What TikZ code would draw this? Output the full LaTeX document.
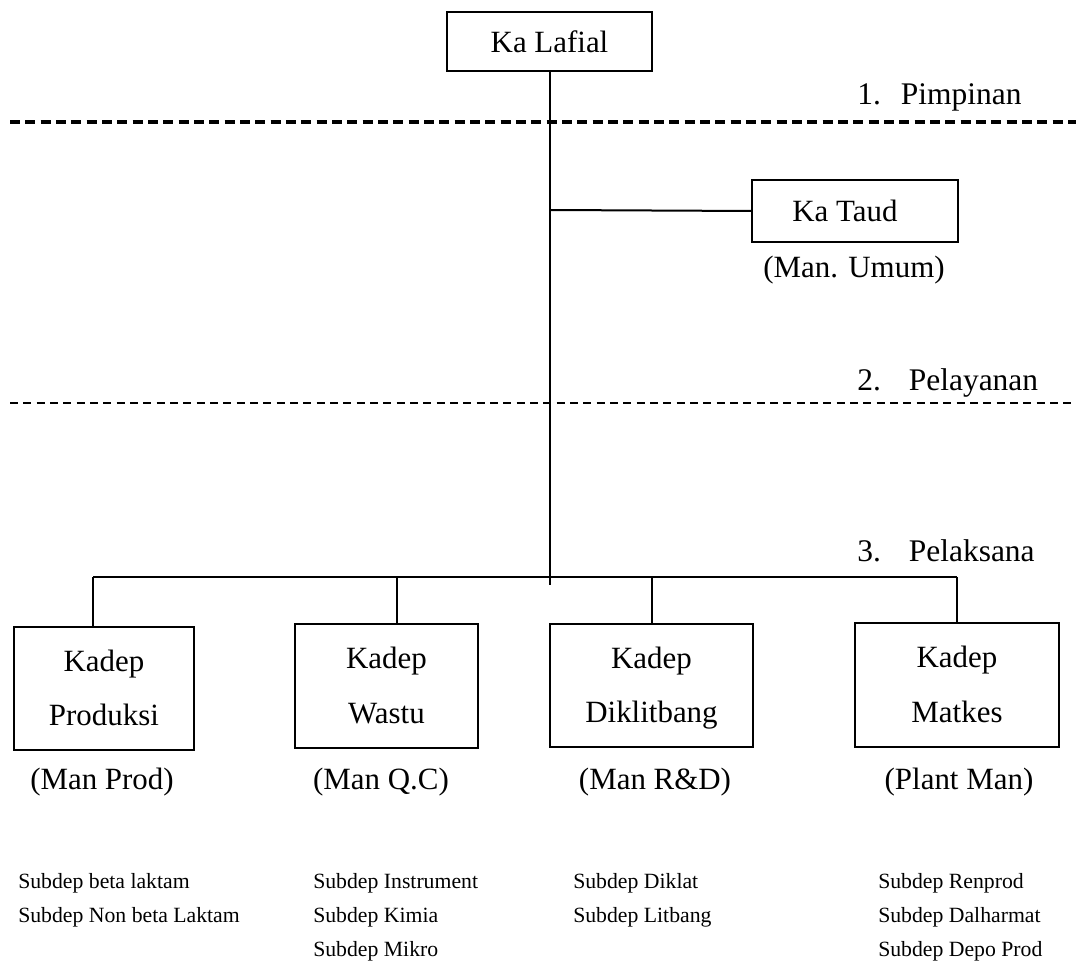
\documentclass[tikz,border=0pt]{standalone}
\usepackage{fontspec}
\setmainfont{Liberation Serif}
\newcommand{\toprl}{\rule{0pt}{20pt}}
\newcommand{\botrl}{\vphantom{g}}
\begin{document}
\begin{tikzpicture}[x=0.75pt,y=-0.75pt,
  box/.style={draw, line width=1.4pt, inner sep=0pt, align=center,
    font=\fontsize{23.2}{41}\selectfont},
  lbl/.style={inner sep=0pt, font=\fontsize{23.2}{28}\selectfont},
  lvl/.style={inner sep=0pt, anchor=west, font=\fontsize{23.6}{28}\selectfont},
  sub/.style={inner sep=0pt, anchor=west, font=\fontsize{16.3}{20}\selectfont},
  conn/.style={line width=1.5pt},
  thinconn/.style={line width=1.1pt},
  dashA/.style={line width=2.3pt, dash pattern=on 7.5pt off 4pt},
  dashB/.style={line width=1.1pt, dash pattern=on 6pt off 4pt}]
\useasboundingbox (0,0) rectangle (1076,969);
% top
\node[box, minimum width={205*0.75pt}, minimum height={59*0.75pt}] (lafial) at (549.5,41.5) {Ka Lafial};
\node[box, minimum width={206*0.75pt}, minimum height={62*0.75pt}] (taud) at (855,211) {Ka Taud\hspace*{15pt}};
\node[lbl] (umum) at (854,270) {(Man. Umum)};
% level separators
\coordinate (d1a) at (10,122); \coordinate (d1b) at (1076,122);
\coordinate (d2a) at (10,403); \coordinate (d2b) at (1076,403);
\draw[dashA] (d1a) -- (d1b);
\draw[dashB] (d2a) -- (d2b);
\node[lvl] (l1) at (857,97) {1.\hspace{15pt}Pimpinan};
\node[lvl] (l2) at (857,383) {2.\hspace{21pt}Pelayanan};
\node[lvl] (l3) at (857,551) {3.\hspace{21pt}Pelaksana};
% departments
\node[box, minimum width={180*0.75pt}, minimum height={123*0.75pt}] (b1) at (104,688.5) {\toprl Kadep\\Produksi\botrl};
\node[box, minimum width={183*0.75pt}, minimum height={124*0.75pt}] (b2) at (386.5,686) {\toprl Kadep\\Wastu\botrl};
\node[box, minimum width={203*0.75pt}, minimum height={123*0.75pt}] (b3) at (651.5,685.5) {\toprl Kadep\\Diklitbang\botrl};
\node[box, minimum width={204*0.75pt}, minimum height={124*0.75pt}] (b4) at (957,685) {\toprl Kadep\\Matkes\botrl};
\node[lbl] (m1) at (102,782) {(Man Prod)};
\node[lbl] (m2) at (381,782) {(Man Q.C)};
\node[lbl] (m3) at (655,782) {(Man R\&D)};
\node[lbl] (m4) at (959,782) {(Plant Man)};
% connectors
\coordinate (trunk) at (550,585);
\coordinate (tj) at (550,210);
\coordinate (j1) at (93,577);
\coordinate (j2) at (397,577);
\coordinate (j3) at (652,577);
\coordinate (j4) at (957,577);
\draw[thinconn] (lafial.south -| trunk) -- (trunk);
\draw[conn] (tj) -- (taud.west);
\draw[conn] (j1) -- (j4);
\draw[thinconn] (j1) -- (j1 |- b1.north);
\draw[thinconn] (j2) -- (j2 |- b2.north);
\draw[conn] (j3) -- (j3 |- b3.north);
\draw[conn] (j4) -- (j4 |- b4.north);
% sub departments
\node[sub] (s11) at (18,883) {Subdep beta laktam};
\node[sub] (s12) at (18,917) {Subdep Non beta Laktam};
\node[sub] (s21) at (313,883) {Subdep Instrument};
\node[sub] (s22) at (313,917) {Subdep Kimia};
\node[sub] (s23) at (313,951) {Subdep Mikro};
\node[sub] (s31) at (573,883) {Subdep Diklat};
\node[sub] (s32) at (573,917) {Subdep Litbang};
\node[sub] (s41) at (878,883) {Subdep Renprod};
\node[sub] (s42) at (878,917) {Subdep Dalharmat};
\node[sub] (s43) at (878,951) {Subdep Depo Prod};
\end{tikzpicture}
\end{document}
